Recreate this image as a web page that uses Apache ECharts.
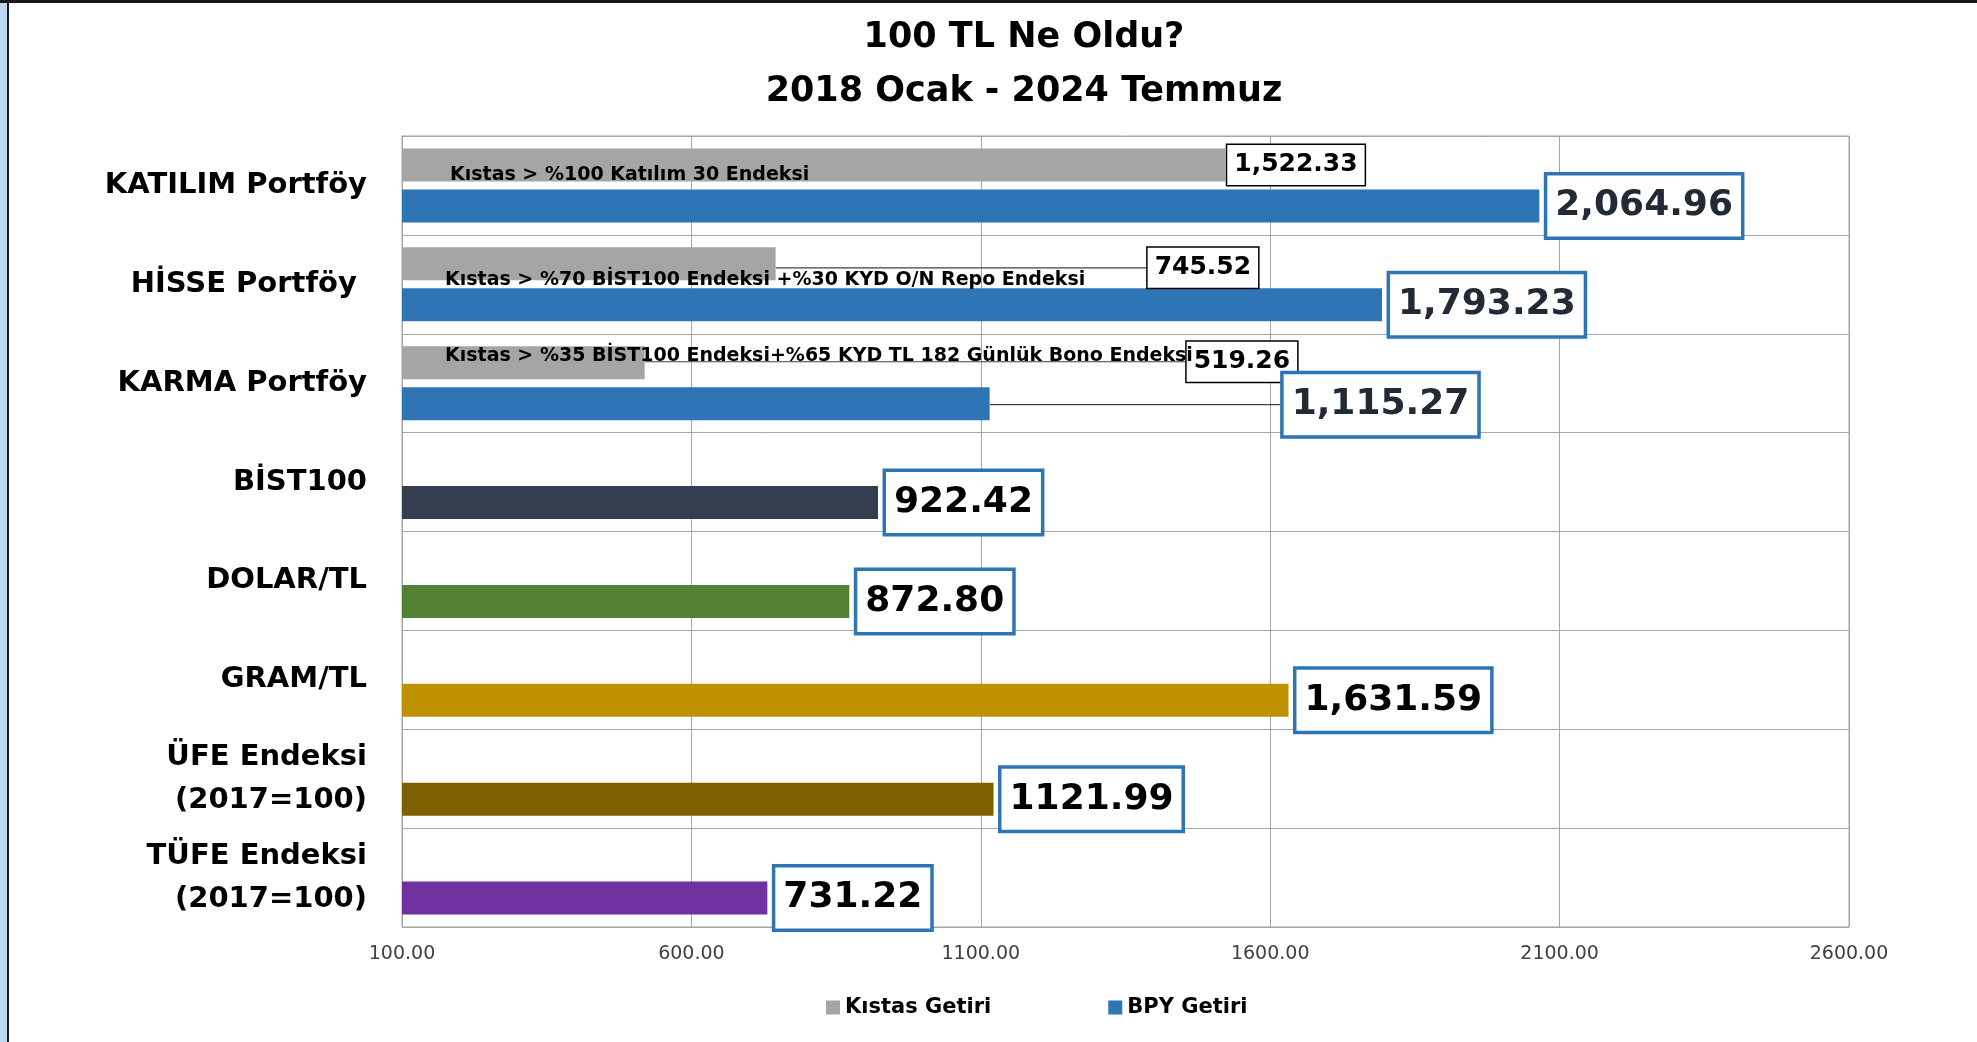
<!DOCTYPE html>
<html>
<head>
<meta charset="utf-8">
<title>100 TL Ne Oldu?</title>
<script src="https://cdn.jsdelivr.net/npm/echarts@6/dist/echarts.min.js"></script>
<style>
  html, body { margin: 0; padding: 0; background: #fff; }
  #wrap { position: relative; width: 1977px; height: 1042px; overflow: hidden; }
  #chart { position: absolute; left: 0; top: 0; width: 1977px; height: 1042px; }
  /* frame of the original screenshot */
  .edge-blue { position: absolute; left: 0; top: 0; width: 7px; height: 1042px; background: #bdd7ee; }
  .edge-left { position: absolute; left: 7px; top: 0; width: 2px; height: 1042px; background: #1a1a1a; }
  .edge-top { position: absolute; left: 0; top: 0; width: 1977px; height: 3px; background: #1a1a1a; }
</style>
</head>
<body>
<div id="wrap">
  <div id="chart"></div>
  <div class="edge-blue"></div>
  <div class="edge-left"></div>
  <div class="edge-top"></div>
</div>
<script>
// data
const categories = [
  "KATILIM Portföy",
  "HİSSE Portföy ",
  "KARMA Portföy",
  "BİST100",
  "DOLAR/TL",
  "GRAM/TL",
  "ÜFE Endeksi\n(2017=100)",
  "TÜFE Endeksi\n(2017=100)",
];
const seriesNames = ["Kıstas Getiri", "BPY Getiri"];
const kistasValues = [1522.33, 745.52, 519.26, null, null, null, null, null];
const bpyValues = [2064.96, 1793.23, 1115.27, 922.42, 872.8, 1631.59, 1121.99, 731.22];
// label texts as printed (ÜFE one has no thousands separator)
const bpyLabels = ["2,064.96", "1,793.23", "1,115.27", "922.42", "872.80", "1,631.59", "1121.99", "731.22"];
const kistasNotes = [
  "Kıstas > %100 Katılım 30 Endeksi",
  "Kıstas > %70 BİST100 Endeksi +%30 KYD O/N Repo Endeksi",
  "Kıstas > %35 BİST100 Endeksi+%65 KYD TL 182 Günlük Bono Endeksi",
];
const xMin = 100;
const xMax = 2600;
const xStep = 500;

// styles
const FONT = "DejaVu Sans";
const kistasColor = "#A5A5A5";
const bpyColor = "#2E75B6";
const barColors = ["#2E75B6", "#2E75B6", "#2E75B6", "#333F50", "#548235", "#BF9000", "#7F6000", "#7030A0"];
const bpyTextColors = ["#222a35", "#222a35", "#222a35", "#000", "#000", "#000", "#000", "#000"];
const gridColor = "#a5a5a5";

// labels that were dragged away from their bar in the original (dx, dy)
const kistasLabelShift = { 1: [370, 4], 2: [540, -1] };
const bpyLabelShift = { 2: [286, 1] };
// position of the kıstas notes relative to x=min and band centre
const noteOffset = [[48, -10], [43, -4], [43, -27]];

const chart = echarts.init(document.getElementById("chart"));

const option = {
  animation: false,
  backgroundColor: "#fff",
  textStyle: { fontFamily: FONT },
  grid: {
    left: 402,
    right: 128,
    top: 136,
    bottom: 115,
    show: true,
    borderColor: gridColor,
    borderWidth: 1,
  },
  legend: {
    left: 821,
    top: 992,
    icon: "rect",
    itemWidth: 14,
    itemHeight: 14,
    itemGap: 117,
    textStyle: { fontFamily: FONT, fontSize: 21, fontWeight: "bold", color: "#000" },
    data: seriesNames,
  },
  xAxis: {
    type: "value",
    min: xMin,
    max: xMax,
    interval: xStep,
    axisLine: { show: false },
    axisTick: { show: false },
    splitLine: { show: true, lineStyle: { color: gridColor, width: 1 } },
    axisLabel: {
      margin: 18,
      fontFamily: FONT,
      fontSize: 19,
      color: "#404040",
      formatter: (v) => v.toFixed(2),
    },
  },
  yAxis: {
    type: "category",
    inverse: true,
    data: categories,
    axisLine: { show: true, lineStyle: { color: gridColor } },
    axisTick: { show: false },
    splitLine: { show: true, lineStyle: { color: gridColor, width: 1 } },
    axisLabel: {
      margin: 35,
      fontFamily: FONT,
      fontSize: 29,
      fontWeight: "bold",
      color: "#000",
      lineHeight: 43,
      align: "right",
    },
  },
  series: [
    {
      name: seriesNames[0],
      type: "bar",
      barWidth: 33,
      barGap: "24%",
      itemStyle: { color: kistasColor },
      data: kistasValues.map((v, i) => ({
        value: v,
        labelLine: { show: !!kistasLabelShift[i] },
      })),
      label: {
        show: true,
        position: "right",
        distance: 2,
        fontFamily: FONT,
        fontSize: 25,
        fontWeight: "bold",
        color: "#000",
        lineHeight: 28,
        padding: [6, 7],
        backgroundColor: "#fff",
        borderColor: "#000",
        borderWidth: 1.5,
        formatter: (p) =>
          p.value == null ? "" : p.value.toLocaleString("en-US", { minimumFractionDigits: 2, maximumFractionDigits: 2 }),
      },
      labelLine: { lineStyle: { color: "#404040", width: 1.2 } },
      labelLayout: (p) => {
        const s = kistasLabelShift[p.dataIndex];
        return s ? { dx: s[0], dy: s[1] } : {};
      },
    },
    {
      name: seriesNames[1],
      type: "bar",
      barWidth: 33,
      barGap: "24%",
      itemStyle: { color: bpyColor },
      data: bpyValues.map((v, i) => ({
        value: v,
        itemStyle: { color: barColors[i] },
        label: { color: bpyTextColors[i] },
        labelLine: { show: !!bpyLabelShift[i] },
      })),
      label: {
        show: true,
        position: "right",
        distance: 8,
        fontFamily: FONT,
        fontSize: 36,
        fontWeight: "bold",
        lineHeight: 47,
        padding: [7, 8],
        backgroundColor: "#fff",
        borderColor: bpyColor,
        borderWidth: 3.5,
        formatter: (p) => bpyLabels[p.dataIndex],
      },
      labelLine: { lineStyle: { color: "#404040", width: 1.2 } },
      labelLayout: (p) => {
        const s = bpyLabelShift[p.dataIndex];
        return s ? { dx: s[0], dy: s[1] } : {};
      },
    },
  ],
};

chart.setOption(option);

// title and the kıstas notes written over the grey bars
const x0 = chart.convertToPixel({ xAxisIndex: 0 }, xMin);
const graphics = [
  {
    type: "text",
    x: 1024,
    y: 38,
    z: 100,
    style: { text: "100 TL Ne Oldu?", fill: "#000", font: "bold 35px '" + FONT + "'", textAlign: "center", textVerticalAlign: "middle" },
  },
  {
    type: "text",
    x: 1024,
    y: 92,
    z: 100,
    style: { text: "2018 Ocak - 2024 Temmuz", fill: "#000", font: "bold 35px '" + FONT + "'", textAlign: "center", textVerticalAlign: "middle" },
  },
];
kistasNotes.forEach((t, i) => {
  const yc = chart.convertToPixel({ yAxisIndex: 0 }, categories[i]);
  graphics.push({
    type: "text",
    x: x0 + noteOffset[i][0],
    y: yc + noteOffset[i][1],
    z: 100,
    style: { text: t, fill: "#000", font: "bold 19px '" + FONT + "'", textAlign: "left", textVerticalAlign: "middle" },
  });
});
chart.setOption({ graphic: graphics });

window.addEventListener("resize", () => chart.resize());
</script>
</body>
</html>
